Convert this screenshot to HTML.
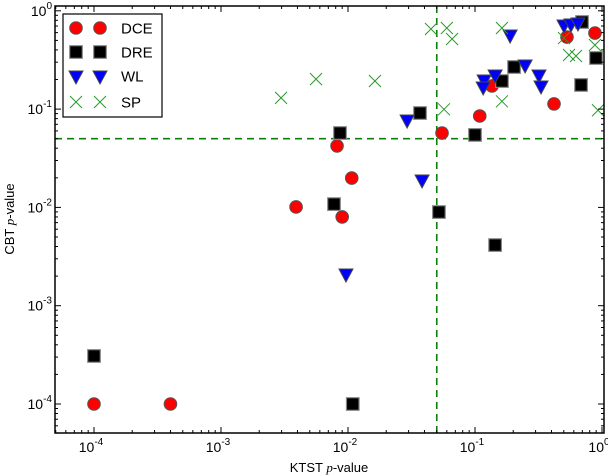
<!DOCTYPE html>
<html><head><meta charset="utf-8"><style>
body{margin:0;background:#fff}
svg{display:block;font-family:"Liberation Sans",sans-serif}
</style></head><body>
<svg id="chart" width="608" height="476" viewBox="0 0 608 476" xmlns="http://www.w3.org/2000/svg">
<rect width="608" height="476" fill="#fff"/>
<g id="marks"></g>
<g id="axes"></g>
<g id="legend">
<rect x="63" y="14" width="99" height="103" fill="#fff" stroke="#000" stroke-width="1.2"/>
</g>
<text x="329" y="472" text-anchor="middle" font-size="13">KTST <tspan font-family="Liberation Serif,serif" font-style="italic">p</tspan>-value</text>
<text transform="translate(14,219) rotate(-90)" text-anchor="middle" font-size="13">CBT <tspan font-family="Liberation Serif,serif" font-style="italic">p</tspan>-value</text>
</svg>
<script>
const dceX=[1e-4,4e-4,0.0082,0.0107,0.0039,0.0090,0.055,0.109,0.136,0.419,0.53,0.88];
const dceY=[1e-4,1e-4,0.0422,0.0199,0.0101,0.0080,0.0571,0.0851,0.172,0.113,0.541,0.594];
const dreX=[1e-4,0.0109,0.00776,0.00865,0.0369,0.052,0.1,0.144,0.163,0.203,0.684,0.897,0.696];
const dreY=[3.08e-4,1e-4,0.0108,0.0571,0.0912,0.00897,0.0546,0.00414,0.193,0.268,0.176,0.331,0.769];
const wlX=[0.00964,0.0292,0.0383,0.118,0.116,0.144,0.189,0.248,0.319,0.331,0.502,0.57,0.647];
const wlY=[0.0021,0.0774,0.019,0.198,0.168,0.222,0.567,0.281,0.222,0.172,0.718,0.735,0.752];
const spX=[0.00297,0.0056,0.0163,0.045,0.057,0.060,0.066,0.163,0.163,0.502,0.55,0.624,0.88,0.93];
const spY=[0.130,0.202,0.193,0.653,0.0995,0.668,0.517,0.668,0.120,0.528,0.355,0.347,0.449,0.0973];
const xTickLabels=["-4","-3","-2","-1","0"];
const yTickLabels=["-4","-3","-2","-1","0"];
const threshold=0.05;

const NS="http://www.w3.org/2000/svg";
const L=55,R=604,T=6,B=433;
function sx(v){return 602+127*Math.log10(v);}
function sy(v){return 404-98.3*(Math.log10(v)+4);}
function mk(tag,attrs,parent){const e=document.createElementNS(NS,tag);for(const k in attrs)e.setAttribute(k,attrs[k]);parent.appendChild(e);return e;}
const marks=document.getElementById('marks');
const axes=document.getElementById('axes');

let tl=mk('line',{x1:L,x2:R,y1:sy(threshold),y2:sy(threshold),stroke:'#0a800a','stroke-width':1.6,'stroke-dasharray':'7,5'},marks);


tl=mk('line',{x1:sx(threshold),x2:sx(threshold),y1:T,y2:B,stroke:'#0a800a','stroke-width':1.6,'stroke-dasharray':'7,5'},marks);



function circle(x,y,p){return mk('circle',{cx:x,cy:y,r:6.3,fill:'#f00',stroke:'#555','stroke-width':1},p);}
function square(x,y,p){return mk('rect',{x:x-6.3,y:y-6.3,width:12.6,height:12.6,fill:'#000',stroke:'#888','stroke-width':1.2},p);}
function tri(x,y,p){return mk('polygon',{points:`${x-7},${y-5} ${x+7},${y-5} ${x},${y+8}`,fill:'#00f',stroke:'#444','stroke-width':1},p);}
function cross(x,y,p){return mk('path',{d:`M${x-6},${y-6}L${x+6},${y+6}M${x-6},${y+6}L${x+6},${y-6}`,stroke:'#2a9a2a','stroke-width':1,fill:'none'},p);}

dceX.forEach((v,i)=>{const e=circle(sx(v),sy(dceY[i]),marks);

});
dreX.forEach((v,i)=>{const e=square(sx(v),sy(dreY[i]),marks);

});
wlX.forEach((v,i)=>{const e=tri(sx(v),sy(wlY[i]),marks);

});
spX.forEach((v,i)=>{const e=cross(sx(v),sy(spY[i]),marks);

});

const fr=mk('rect',{x:L,y:T,width:R-L,height:B-T,fill:'none',stroke:'#000','stroke-width':1.5},axes);


for(let d=-5;d<=0;d++){for(let m=1;m<=9;m++){const v=m*Math.pow(10,d);
 const len=m===1?6:3;
 const x=sx(v); if(x>=L&&x<=R){mk('line',{x1:x,x2:x,y1:B,y2:B-len,stroke:'#000'},axes);mk('line',{x1:x,x2:x,y1:T,y2:T+len,stroke:'#000'},axes);}
 const y=sy(v); if(y>=T&&y<=B){mk('line',{x1:L,x2:L+len,y1:y,y2:y,stroke:'#000'},axes);mk('line',{x1:R,x2:R-len,y1:y,y2:y,stroke:'#000'},axes);}
}}
xTickLabels.forEach(s=>{const v=Math.pow(10,+s);
 const t=mk('text',{x:sx(v)-3,y:452,'text-anchor':'middle','font-size':14},axes);
 t.innerHTML='10<tspan dy="-7" font-size="10">'+s+'</tspan>';
 
 });
yTickLabels.forEach(s=>{const v=Math.pow(10,+s);
 const t=mk('text',{x:52,y:sy(v)+5,'text-anchor':'end','font-size':14},axes);
 t.innerHTML='10<tspan dy="-7" font-size="10">'+s+'</tspan>';
 
 });

const lg=document.getElementById('legend');
const entries=[['DCE',circle,28],['DRE',square,52],['WL',tri,76],['SP',cross,102]];
entries.forEach(([name,fn,y])=>{const g=mk('g',{},lg);
 
 
 fn(76,y,g);fn(100,y,g);
 const t=mk('text',{x:121,y:y+5.5,'font-size':15},g);t.textContent=name;});
</script>
</body></html>
